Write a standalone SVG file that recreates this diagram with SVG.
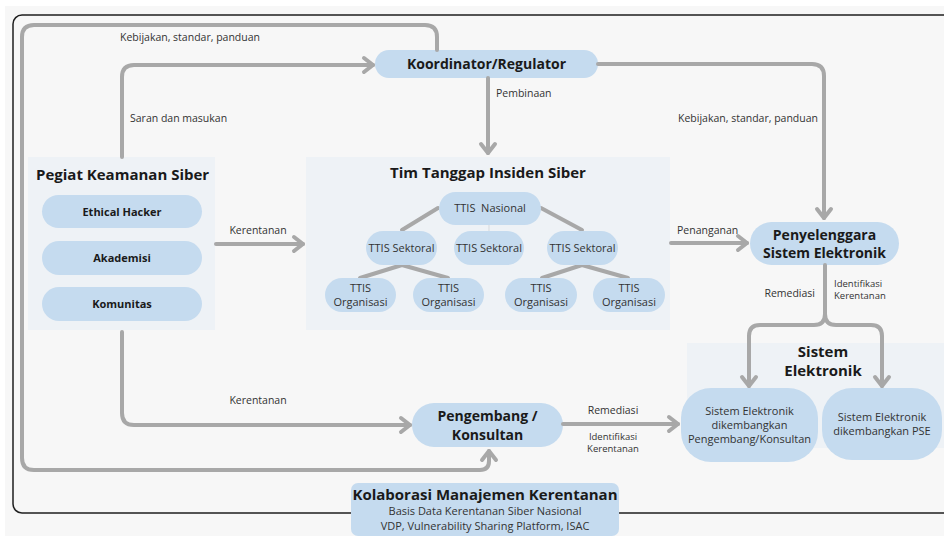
<svg xmlns="http://www.w3.org/2000/svg" width="944" height="536" viewBox="0 0 944 536">
<defs>
<style>
.bg{fill:#f7f7f7}
.panel{fill:#eef2f6}
.pill{fill:#c5dbef}
.ln{fill:none;stroke:#a8a8a8;stroke-width:4;stroke-linecap:round;stroke-linejoin:round}
.arr{marker-end:url(#chev)}
text{font-family:"Open Sans","Liberation Sans",sans-serif;fill:#1a1a1a}
.t{font-size:15px;font-weight:700;text-anchor:middle}
.tl{font-size:15px;font-weight:700}
.n{font-size:14px;font-weight:700;text-anchor:middle}
.s{font-size:11px;font-weight:700;text-anchor:middle}
.m{font-size:11px;text-anchor:middle;fill:#333}
.lb{font-size:10.5px;fill:#333}
.lb2{font-size:9.5px;fill:#333}
.lbm{font-size:10.5px;fill:#333;text-anchor:middle}
.lbm2{font-size:9.5px;fill:#333;text-anchor:middle}
.lbe{font-size:10.5px;fill:#333;text-anchor:end}
</style>
<marker id="chev" markerUnits="userSpaceOnUse" markerWidth="18" markerHeight="20" refX="12" refY="9" orient="auto" overflow="visible">
<path d="M3,2 L12,9 L3,16" fill="none" stroke="#a8a8a8" stroke-width="4" stroke-linecap="round" stroke-linejoin="round"/>
</marker>
</defs>
<rect x="0" y="0" width="944" height="536" fill="#ffffff"/>
<rect class="bg" x="5" y="6" width="939" height="530"/>
<rect x="13" y="15" width="940" height="498" rx="9" fill="none" stroke="#1f1f1f" stroke-width="1.5"/>

<g id="koordinator">
<rect class="pill" x="375" y="50" width="223" height="28" rx="14"/>
<text class="n" x="486.5" y="69">Koordinator/Regulator</text>
</g>

<g id="pegiat">
<rect class="panel" x="28" y="157" width="187" height="173"/>
<text class="tl" x="36" y="180">Pegiat Keamanan Siber</text>
<g id="ethical-hacker">
<rect class="pill" x="42" y="195" width="160" height="33" rx="16.5"/>
<text class="s" x="122" y="215.5">Ethical Hacker</text>
</g>
<g id="akademisi">
<rect class="pill" x="42" y="241" width="160" height="34" rx="17"/>
<text class="s" x="122" y="262">Akademisi</text>
</g>
<g id="komunitas">
<rect class="pill" x="42" y="287" width="160" height="34" rx="17"/>
<text class="s" x="122" y="308">Komunitas</text>
</g>
</g>

<g id="ttis">
<rect class="panel" x="306" y="157" width="364" height="173"/>
<text class="t" x="488" y="178">Tim Tanggap Insiden Siber</text>
<g id="ttis-tree-lines">
<path class="ln" d="M438,208 L402,230"/>
<path class="ln" d="M541,208 L582,230"/>
<path d="M489,225 V231" stroke="#d5d9dd" stroke-width="1"/>
<path class="ln" d="M360,278 L402,265 L448,278"/>
<path class="ln" d="M542,278 L582,265 L628,278"/>
</g>
<g id="ttis-nasional">
<rect class="pill" x="439" y="192" width="102" height="33" rx="16.5"/>
<text class="m" x="490" y="212" xml:space="preserve">TTIS  Nasional</text>
</g>
<g id="ttis-sektoral-1">
<rect class="pill" x="366" y="231" width="71" height="34" rx="17"/>
<text class="m" x="401.5" y="251.5">TTIS Sektoral</text>
</g>
<g id="ttis-sektoral-2">
<rect class="pill" x="454" y="231" width="70" height="34" rx="17"/>
<text class="m" x="489" y="251.5">TTIS Sektoral</text>
</g>
<g id="ttis-sektoral-3">
<rect class="pill" x="547" y="231" width="71" height="34" rx="17"/>
<text class="m" x="582.5" y="251.5">TTIS Sektoral</text>
</g>
<g id="ttis-org-1">
<rect class="pill" x="325" y="278" width="71" height="34" rx="17"/>
<text class="m" x="360.5" y="292">TTIS</text>
<text class="m" x="360.5" y="306">Organisasi</text>
</g>
<g id="ttis-org-2">
<rect class="pill" x="413" y="278" width="71" height="34" rx="17"/>
<text class="m" x="448.5" y="292">TTIS</text>
<text class="m" x="448.5" y="306">Organisasi</text>
</g>
<g id="ttis-org-3">
<rect class="pill" x="505" y="278" width="72" height="34" rx="17"/>
<text class="m" x="541" y="292">TTIS</text>
<text class="m" x="541" y="306">Organisasi</text>
</g>
<g id="ttis-org-4">
<rect class="pill" x="593" y="278" width="72" height="34" rx="17"/>
<text class="m" x="629" y="292">TTIS</text>
<text class="m" x="629" y="306">Organisasi</text>
</g>
</g>

<g id="penyelenggara">
<rect class="pill" x="750" y="222" width="149" height="43" rx="21.5"/>
<text class="n" x="824.5" y="240">Penyelenggara</text>
<text class="n" x="824.5" y="258">Sistem Elektronik</text>
</g>

<g id="sistem-elektronik">
<rect class="panel" x="687" y="343" width="257" height="105"/>
<text class="t" x="823" y="357">Sistem</text>
<text class="t" x="823" y="376">Elektronik</text>
<g id="se-pengembang">
<rect class="pill" x="681" y="388" width="137" height="74" rx="30"/>
<text class="m" x="749.5" y="415">Sistem Elektronik</text>
<text class="m" x="749.5" y="429">dikembangkan</text>
<text class="m" x="749.5" y="443">Pengembang/Konsultan</text>
</g>
<g id="se-pse">
<rect class="pill" x="822" y="388" width="120" height="72" rx="30"/>
<text class="m" x="882" y="421">Sistem Elektronik</text>
<text class="m" x="882" y="435">dikembangkan PSE</text>
</g>
</g>

<g id="pengembang">
<rect class="pill" x="412" y="403" width="151" height="44" rx="22"/>
<text class="n" x="487.5" y="421">Pengembang /</text>
<text class="n" x="487.5" y="440">Konsultan</text>
</g>

<g id="kolaborasi">
<rect class="pill" x="351" y="483" width="268" height="53" rx="7"/>
<text class="t" x="485" y="500">Kolaborasi Manajemen Kerentanan</text>
<text class="m" x="485" y="515">Basis Data Kerentanan Siber Nasional</text>
<text class="m" x="485" y="530">VDP, Vulnerability Sharing Platform, ISAC</text>
</g>

<g id="connectors">
<path class="ln arr" d="M437,50 V37 Q437,25 425,25 H34 Q22,25 22,37 V458 Q22,470 34,470 H480 Q489,470 489,461 V451"/>
<path class="ln arr" d="M122,157 V77 Q122,65 134,65 H373"/>
<path class="ln arr" d="M122,332 V413 Q122,425 134,425 H410"/>
<path class="ln arr" d="M598,64 H812 Q824,64 824,76 V218"/>
<path class="ln arr" d="M488,78 V153"/>
<path class="ln arr" d="M216,244 H303"/>
<path class="ln arr" d="M671,243 H747"/>
<path class="ln arr" d="M825,265 V314 Q825,325 814,325 H760 Q749,325 749,336 V386"/>
<path class="ln arr" d="M825,314 Q825,325 836,325 H871 Q882,325 882,336 V386"/>
<path class="ln arr" d="M563,424 H678"/>
</g>
<g id="edge-labels">
<text class="lb" x="120" y="41">Kebijakan, standar, panduan</text>
<text class="lb" x="130" y="122">Saran dan masukan</text>
<text class="lb" x="496" y="97">Pembinaan</text>
<text class="lbe" x="818" y="122">Kebijakan, standar, panduan</text>
<text class="lbm" x="258" y="234">Kerentanan</text>
<text class="lb" x="677" y="234">Penanganan</text>
<text class="lbe" x="815" y="297">Remediasi</text>
<text class="lb2" x="834" y="287">Identifikasi</text>
<text class="lb2" x="834" y="299">Kerentanan</text>
<text class="lbm" x="258" y="404">Kerentanan</text>
<text class="lbm" x="613" y="414">Remediasi</text>
<text class="lbm2" x="613" y="440">Identifikasi</text>
<text class="lbm2" x="613" y="452">Kerentanan</text>
</g>
</svg>
